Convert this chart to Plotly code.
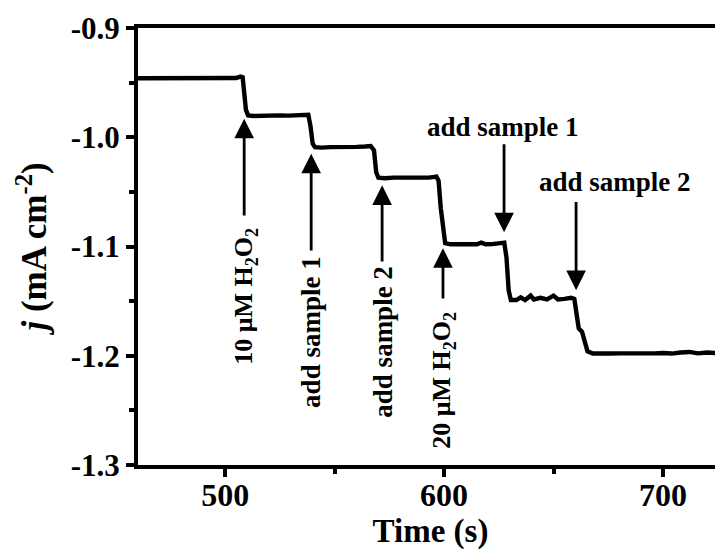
import plotly.graph_objects as go

# Chronoamperometric trace (time in s, current density in mA cm^-2)
time_s = [460, 464, 468, 471, 473, 475, 478, 482, 486, 490, 494, 498, 502, 505, 507, 508,
          509.5, 510.5,
          513, 517, 521, 525, 529, 533, 536, 538,
          539, 540, 541,
          544, 548, 552, 556, 560, 564, 566.5,
          568, 569, 570,
          573, 577, 581, 585, 589, 593, 596.5,
          597.5, 598.5, 599.5, 600.5,
          603, 606, 609, 612, 615, 617, 619, 622, 625, 627.5,
          628.5, 629.5, 630.5,
          633, 635, 637, 639.5, 641, 644, 647, 650, 652, 655, 658, 659.5,
          660.5, 661.5, 663, 664, 665.5,
          668, 672, 676, 680, 684, 688, 692, 696, 700, 704, 708, 712, 716, 720, 724, 728]
current = [-0.946, -0.946, -0.9455, -0.9465, -0.9455, -0.946, -0.9458, -0.946, -0.9462, -0.946,
           -0.9458, -0.946, -0.9462, -0.9458, -0.9445, -0.945,
           -0.975, -0.980,
           -0.9805, -0.980, -0.9803, -0.980, -0.9802, -0.980, -0.9798, -0.9795,
           -0.990, -1.006, -1.009,
           -1.0095, -1.009, -1.0092, -1.009, -1.0088, -1.0085, -1.008,
           -1.012, -1.032, -1.037,
           -1.0375, -1.037, -1.0372, -1.037, -1.0368, -1.037, -1.036,
           -1.040, -1.065, -1.085, -1.097,
           -1.098, -1.0975, -1.098, -1.0978, -1.098, -1.0965, -1.098, -1.0978, -1.097, -1.0965,
           -1.110, -1.140, -1.149,
           -1.149, -1.1465, -1.149, -1.145, -1.1485, -1.147, -1.1485, -1.145, -1.1485, -1.148,
           -1.147, -1.148,
           -1.160, -1.175, -1.178, -1.186, -1.196,
           -1.198, -1.1975, -1.198, -1.1978, -1.198, -1.1975, -1.198, -1.1978, -1.1975, -1.198,
           -1.197, -1.1965, -1.1978, -1.197, -1.1975, -1.197]

# Annotations: label, arrow x, arrow tip y, arrow tail y, text x, text y, text angle
ann_labels = ["10 μM H<sub>2</sub>O<sub>2</sub>", "add sample 1", "add sample 2",
              "20 μM H<sub>2</sub>O<sub>2</sub>", "add sample 1", "add sample 2"]
ann_x = [508.7, 539.3, 571.7, 599.5, 627.4, 660.3]
ann_tip = [-0.983, -1.015, -1.044, -1.1015, -1.087, -1.140]
ann_tail = [-1.073, -1.105, -1.115, -1.149, -1.005, -1.058]
ann_tx = [509.1, 539.3, 571.7, 599.5, 627.0, 678.0]
ann_ty = [-1.146, -1.178, -1.187, -1.222, -0.991, -1.041]
ann_angle = [-90, -90, -90, -90, 0, 0]
ann_size = [26, 27, 27, 26, 27, 27]

x_ticks = [500, 600, 700]
y_ticks = [-1.3, -1.2, -1.1, -1.0, -0.9]
y_ticklabels = ["-1.3", "-1.2", "-1.1", "-1.0", "-0.9"]

FONT = "Liberation Serif"

fig = go.Figure()
fig.add_trace(go.Scatter(x=time_s, y=current, mode="lines",
                         line=dict(color="black", width=4.4), showlegend=False))

annotations = []
for lab, x, tip, tail, tx, ty, ang, sz in zip(ann_labels, ann_x, ann_tip, ann_tail,
                                              ann_tx, ann_ty, ann_angle, ann_size):
    annotations.append(dict(x=x, y=tip, xref="x", yref="y", ax=x, ay=tail,
                            axref="x", ayref="y", text="", showarrow=True,
                            arrowhead=2, arrowsize=1.4, arrowwidth=2.8,
                            arrowcolor="black", standoff=0))
    annotations.append(dict(x=tx, y=ty, xref="x", yref="y", text=lab, showarrow=False,
                            textangle=ang,
                            font=dict(family=FONT, size=sz, color="black", weight="bold")))

# The page body has an 8px default margin, so the figure is sized to fit the window.
fig.update_layout(
    width=715, height=549,
    margin=dict(l=130, r=0, t=20, b=92),
    plot_bgcolor="white", paper_bgcolor="white",
    annotations=annotations,
    xaxis=dict(range=[460.2, 727.4], tickvals=x_ticks, ticks="outside", ticklen=8,
               tickwidth=4, tickcolor="black", showline=True, linewidth=4,
               linecolor="black", mirror=True, showgrid=False, zeroline=False,
               automargin=False, ticklabelstandoff=-9,
               minor=dict(tickvals=[550, 650], ticks="outside", ticklen=5,
                          tickwidth=4, tickcolor="black"),
               tickfont=dict(family=FONT, size=32, color="black", weight="bold"),
               title=dict(text="Time (s)", standoff=0,
                          font=dict(family=FONT, size=33, color="black", weight="bold"))),
    yaxis=dict(range=[-1.3, -0.9], tickvals=y_ticks, ticktext=y_ticklabels,
               ticks="outside", ticklen=8, tickwidth=4, tickcolor="black",
               showline=True, linewidth=4, linecolor="black", mirror=False,
               showgrid=False, zeroline=False, automargin=False,
               minor=dict(tickvals=[-1.25, -1.15, -1.05, -0.95], ticks="outside",
                          ticklen=5, tickwidth=4, tickcolor="black"),
               tickfont=dict(family=FONT, size=31, color="black", weight="bold"),
               title=dict(text="<i>j</i> (mA cm<sup>-2</sup>)", standoff=14,
                          font=dict(family=FONT, size=35, color="black", weight="bold"))),
)

fig.write_html("out.html")
